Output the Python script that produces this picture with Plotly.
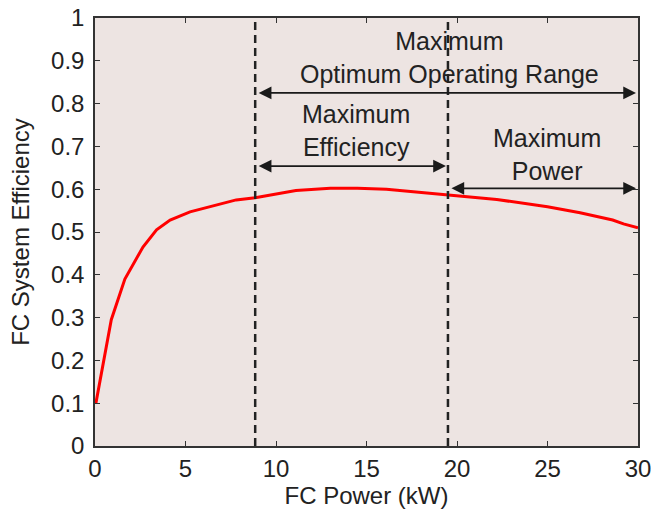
import plotly.graph_objects as go

# Data
power_kw = [0.05, 0.3, 0.9, 1.65, 2.65, 3.4, 4.15, 5.25, 6.35, 7.8, 8.85, 10.2, 11.1,
            13.0, 14.5, 16.1, 17.6, 19.4, 22.2, 25.0, 26.8, 28.6, 29.2, 30.0]
efficiency = [0.10, 0.155, 0.295, 0.39, 0.465, 0.505, 0.528, 0.547, 0.559, 0.575, 0.580,
              0.590, 0.597, 0.602, 0.602, 0.600, 0.594, 0.586, 0.576, 0.559, 0.545,
              0.528, 0.519, 0.51]

boundaries = [8.85, 19.5]
x_ticks = [0, 5, 10, 15, 20, 25, 30]
y_ticks = [0, 0.1, 0.2, 0.3, 0.4, 0.5, 0.6, 0.7, 0.8, 0.9, 1]

# range arrows: (start, end, y)
range_arrows = [
    (8.85, 30.0, 0.825),
    (8.85, 19.5, 0.654),
    (19.5, 30.0, 0.602),
]
labels = [
    ("Maximum<br>Optimum Operating Range", 19.6, 0.907),
    ("Maximum<br>Efficiency", 14.4, 0.738),
    ("Maximum<br>Power", 24.95, 0.682),
]

FONT = "Liberation Sans, Arial, Helvetica, sans-serif"
TXT = "#222222"

fig = go.Figure()
fig.add_trace(go.Scatter(x=power_kw, y=efficiency, mode="lines",
                         line=dict(color="#ff0000", width=3), showlegend=False,
                         hoverinfo="skip"))

for b in boundaries:
    fig.add_shape(type="line", xref="x", yref="paper", x0=b, x1=b, y0=0, y1=1,
                  line=dict(color="#222222", width=2.5, dash="8px,5px"))

annotations = []
for (x0, x1, yy) in range_arrows:
    annotations.append(dict(x=x1, y=yy, ax=x0, ay=yy, xref="x", yref="y",
                            axref="x", ayref="y", text="", showarrow=True,
                            arrowside="end+start", arrowhead=2, arrowsize=1.5,
                            arrowwidth=1.7, arrowcolor="#1a1a1a",
                            standoff=2, startstandoff=2))
for (t, x, y) in labels:
    annotations.append(dict(x=x, y=y, xref="x", yref="y", text=t, showarrow=False,
                            font=dict(family=FONT, size=25, color=TXT),
                            align="center", xanchor="center", yanchor="middle"))

axis_common = dict(showline=True, linecolor="#333333", linewidth=1.5, mirror="ticks",
                   ticks="inside", ticklen=5, tickwidth=1, tickcolor="#333333",
                   showgrid=False, zeroline=False, ticklabeloverflow="allow",
                   tickfont=dict(family=FONT, size=24, color=TXT))

fig.update_layout(
    width=651, height=511,
    margin=dict(l=95, r=13, t=18, b=65, autoexpand=False),
    paper_bgcolor="white",
    plot_bgcolor="#ede4e2",
    font=dict(family=FONT, size=24, color=TXT),
    annotations=annotations,
    xaxis=dict(range=[0, 30], tickvals=x_ticks, ticktext=[str(v) for v in x_ticks],
               title=dict(text="FC Power (kW)", font=dict(family=FONT, size=24, color=TXT),
                          standoff=2),
               **axis_common),
    yaxis=dict(range=[0, 1], tickvals=y_ticks, ticktext=[("%g" % v) for v in y_ticks],
               ticklabelstandoff=4,
               title=dict(text="FC System Efficiency", font=dict(family=FONT, size=24, color=TXT),
                          standoff=15),
               **axis_common),
)

fig.write_html("out.html")
